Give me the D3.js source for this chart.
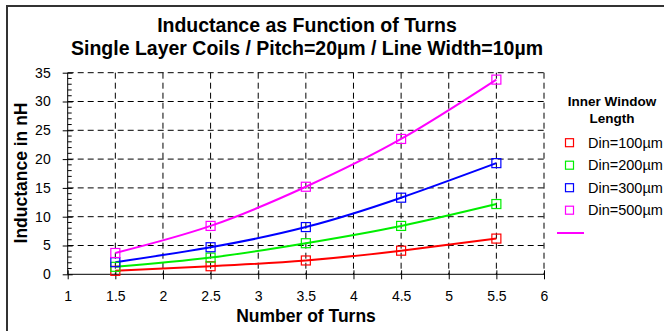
<!DOCTYPE html>
<html>
<head>
<meta charset="utf-8">
<script src="https://cdn.jsdelivr.net/npm/d3@7"></script>
<style>
  body { margin: 0; background: #fff; }
  text { font-family: "Liberation Sans", Arial, sans-serif; fill: #000; }
</style>
</head>
<body>
<svg id="vis" width="664" height="331"></svg>
<script>
const width = 664;
const height = 331;

// data
const turns = [1.5, 2.5, 3.5, 4.5, 5.5];
const din100 = [0.6, 1.4, 2.4, 4.1, 6.2];
const din200 = [1.3, 2.9, 5.4, 8.4, 12.2];
const din300 = [2.1, 4.7, 8.2, 13.3, 19.3];
const din500 = [3.7, 8.4, 15.2, 23.5, 33.8];
const seriesNames = ["Din=100\u00b5m", "Din=200\u00b5m", "Din=300\u00b5m", "Din=500\u00b5m"];
const seriesColors = ["#ff0000", "#00ee00", "#0000ff", "#ff00ff"];
const xTicks = [1, 1.5, 2, 2.5, 3, 3.5, 4, 4.5, 5, 5.5, 6];
const yTicks = [0, 5, 10, 15, 20, 25, 30, 35];

const series = [din100, din200, din300, din500].map(function(vals, i) {
  return {
    name: seriesNames[i],
    color: seriesColors[i],
    values: vals.map(function(v, j) { return { x: turns[j], y: v }; })
  };
});

const svg = d3.select("svg#vis");

// outer frame (cut off on right/bottom like the original)
svg.append("rect")
  .attr("x", 7).attr("y", 6)
  .attr("width", 700).attr("height", 400)
  .attr("fill", "none")
  .attr("stroke", "#333")
  .attr("stroke-width", 2);

const x = d3.scaleLinear().domain([1, 6]).range([67.7, 544]);
const y = d3.scaleLinear().domain([0, 35]).range([274.3, 72.7]);

const g = {
  grid: svg.append("g"),
  axes: svg.append("g"),
  lines: svg.append("g"),
  legend: svg.append("g")
};

// dashed grid
g.grid.selectAll("line.vgrid")
  .data(xTicks.slice(1))
  .enter().append("line")
  .attr("x1", d => x(d)).attr("x2", d => x(d))
  .attr("y1", y(35)).attr("y2", y(0))
  .attr("stroke", "#000").attr("stroke-width", 1)
  .attr("stroke-dasharray", "6,4");

g.grid.selectAll("line.hgrid")
  .data(yTicks.slice(1))
  .enter().append("line")
  .attr("x1", x(1)).attr("x2", x(6))
  .attr("y1", d => y(d)).attr("y2", d => y(d))
  .attr("stroke", "#000").attr("stroke-width", 1)
  .attr("stroke-dasharray", "6,4");

// x axis
const xAxis = d3.axisBottom(x).tickValues(xTicks).tickSize(5).tickPadding(12)
  .tickFormat(d3.format("~g"));
const gx = g.axes.append("g")
  .attr("transform", "translate(0," + y(0) + ")")
  .call(xAxis);
gx.select(".domain").attr("d", "M" + x(1) + ",0H" + x(6)).attr("stroke", "#000");
gx.selectAll(".tick line").attr("y1", -4).attr("y2", 5);
gx.selectAll(".tick text").style("font-size", "14px").attr("fill", "#000")
  .style("font-family", "'Liberation Sans', Arial, sans-serif");

// y axis
const yAxis = d3.axisLeft(y).tickValues(yTicks).tickSize(5).tickPadding(12);
const gy = g.axes.append("g")
  .attr("transform", "translate(" + x(1) + ",0)")
  .call(yAxis);
gy.select(".domain").attr("d", "M0," + y(35) + "V" + y(0)).attr("stroke", "#000");
gy.selectAll(".tick line").attr("x1", -5).attr("x2", 5);
gy.selectAll(".tick text").style("font-size", "14px").attr("fill", "#000")
  .style("font-family", "'Liberation Sans', Arial, sans-serif");

// minor y ticks
gy.selectAll("line.minor")
  .data(d3.range(0, 36).filter(d => d % 5 !== 0))
  .enter().append("line")
  .attr("x1", 0).attr("x2", 4)
  .attr("y1", d => y(d)).attr("y2", d => y(d))
  .attr("stroke", "#000");

// series lines
const line = d3.line()
  .x(d => x(d.x))
  .y(d => y(d.y))
  .curve(d3.curveNatural);

g.lines.selectAll("path.series")
  .data(series)
  .enter().append("path")
  .attr("d", d => line(d.values))
  .attr("fill", "none")
  .attr("stroke", d => d.color)
  .attr("stroke-width", 2);

series.forEach(function(s) {
  g.lines.selectAll(null)
    .data(s.values)
    .enter().append("rect")
    .attr("x", d => x(d.x) - 4.5)
    .attr("y", d => y(d.y) - 4.5)
    .attr("width", 9).attr("height", 9)
    .attr("fill", "none")
    .attr("stroke", s.color)
    .attr("stroke-width", 1.2);
});

// titles
svg.append("text")
  .attr("x", 307).attr("y", 31.5)
  .attr("text-anchor", "middle")
  .style("font-size", "19.5px").style("font-weight", "bold")
  .text("Inductance as Function of Turns");
svg.append("text")
  .attr("x", 307).attr("y", 55)
  .attr("text-anchor", "middle")
  .style("font-size", "19.5px").style("font-weight", "bold")
  .text("Single Layer Coils / Pitch=20\u00b5m / Line Width=10\u00b5m");

svg.append("text")
  .attr("x", 306).attr("y", 322)
  .attr("text-anchor", "middle")
  .style("font-size", "17.5px").style("font-weight", "bold")
  .text("Number of Turns");

svg.append("text")
  .attr("transform", "translate(27,173) rotate(-90)")
  .attr("text-anchor", "middle")
  .style("font-size", "17.5px").style("font-weight", "bold")
  .text("Inductance in nH");

// legend
g.legend.append("text")
  .attr("x", 612).attr("y", 106)
  .attr("text-anchor", "middle")
  .style("font-size", "13.5px").style("font-weight", "bold")
  .text("Inner Window");
g.legend.append("text")
  .attr("x", 612).attr("y", 123)
  .attr("text-anchor", "middle")
  .style("font-size", "13.5px").style("font-weight", "bold")
  .text("Length");

const items = g.legend.selectAll("g.item")
  .data(series)
  .enter().append("g")
  .attr("transform", (d, i) => "translate(569.5," + (142.7 + i * 22.5) + ")");
items.append("rect")
  .attr("x", -4).attr("y", -4)
  .attr("width", 8).attr("height", 8)
  .attr("fill", "none")
  .attr("stroke", d => d.color)
  .attr("stroke-width", 1.2);
items.append("text")
  .attr("x", 18.5).attr("y", 5)
  .style("font-size", "14.5px")
  .text(d => d.name);

g.legend.append("line")
  .attr("x1", 557).attr("x2", 584)
  .attr("y1", 233).attr("y2", 233)
  .attr("stroke", seriesColors[3])
  .attr("stroke-width", 2);
</script>
</body>
</html>
